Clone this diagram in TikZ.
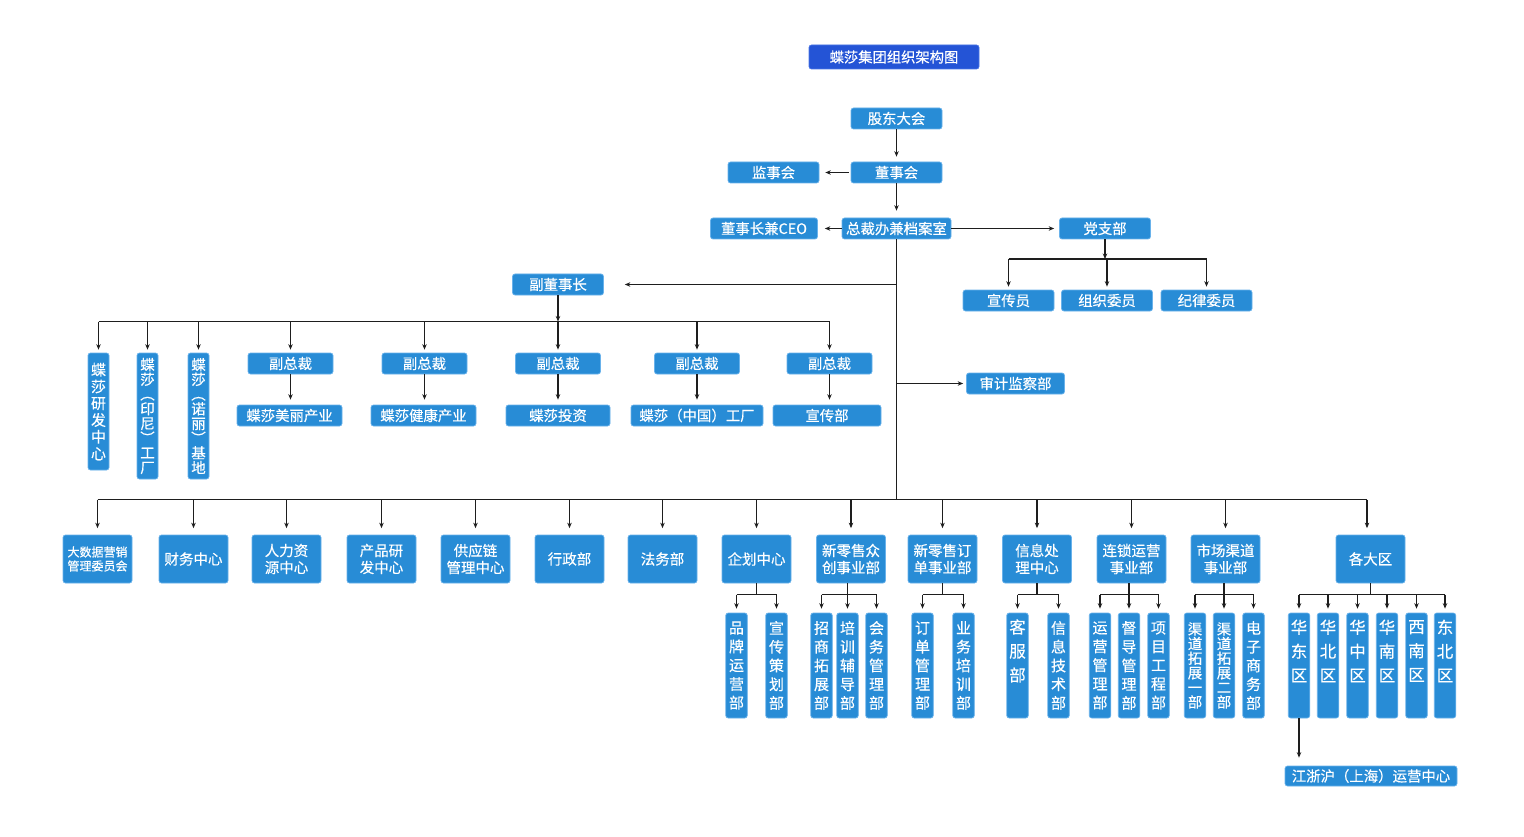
\documentclass[tikz,border=0pt]{standalone}
\usepackage{fontspec}
\setmainfont{Noto Sans CJK SC}[FakeBold=0.35]
\usetikzlibrary{arrows.meta}
\definecolor{boxblue}{RGB}{40,140,214}
\definecolor{boxedge}{RGB}{105,178,235}
\definecolor{titleblue}{RGB}{36,84,214}
\definecolor{titleedge}{RGB}{75,118,230}
\definecolor{linec}{RGB}{30,30,30}
\begin{document}
\begin{tikzpicture}[x=1pt,y=-1pt,
  box/.style={rectangle, rounded corners=2.5pt, fill=boxblue, draw=boxedge, line width=0.7pt, text=white, inner sep=0pt, align=center},
  titlebox/.style={box, fill=titleblue, draw=titleedge, font=\fontsize{14.3}{17}\selectfont},
  hb/.style={box, minimum height=21pt, font=\fontsize{14.4}{17}\selectfont},
  bb/.style={box, minimum width=69pt, minimum height=48pt, font=\fontsize{14.5}{17}\selectfont},
  vb/.style={box, minimum width=21.5pt, minimum height=105pt},
  vfive/.style={vb, font={\fontsize{15}{18.75}\selectfont\lineskiplimit=-20pt}},
  vsix/.style={vb, font={\fontsize{14.5}{14.6}\selectfont\lineskiplimit=-20pt}},
  vthree/.style={text=white, inner sep=0pt, align=center, font={\fontsize{16.5}{24}\selectfont\lineskiplimit=-20pt}},
  conn/.style={draw=linec, line width=1.1pt},
  arr/.style={conn, -{Stealth[length=5.5pt,width=4.5pt]}}]
\useasboundingbox (0,0) rectangle (1524,837);
\fill[white] (0,0) rectangle (1524,837);

% top
\node[titlebox, minimum width=170pt, minimum height=24pt] (title) at (894,57) {蝶莎集团组织架构图};
\node[hb, minimum width=91pt] (gd) at (896.5,118.5) {股东大会};
\node[hb, minimum width=91pt] (dsh) at (896.5,172.5) {董事会};
\node[hb, minimum width=91pt] (jsh) at (773.5,172.5) {监事会};
\node[hb, minimum width=109pt] (zcb) at (896.5,228.5) {总裁办兼档案室};
\node[hb, minimum width=107pt] (ceo) at (764,228.5) {董事长兼CEO};
\node[hb, minimum width=91pt] (dzb) at (1105,228.5) {党支部};
\node[hb, minimum width=91pt] (xcy) at (1008.5,300.5) {宣传员};
\node[hb, minimum width=91pt] (zzwy) at (1107,300.5) {组织委员};
\node[hb, minimum width=91pt] (jlwy) at (1206.5,300.5) {纪律委员};
\node[hb, minimum width=91pt] (fdsz) at (558,284.5) {副董事长};
\node[hb, minimum width=98pt] (sjjc) at (1015.5,383.5) {审计监察部};

% vice presidents
\node[hb, minimum width=85pt] (fz1) at (290.5,363.5) {副总裁};
\node[hb, minimum width=85pt] (fz2) at (424.5,363.5) {副总裁};
\node[hb, minimum width=85pt] (fz3) at (558,363.5) {副总裁};
\node[hb, minimum width=85pt] (fz4) at (697,363.5) {副总裁};
\node[hb, minimum width=85pt] (fz5) at (829.5,363.5) {副总裁};
\node[hb, minimum width=105pt] (ml) at (289.5,415.5) {蝶莎美丽产业};
\node[hb, minimum width=105pt] (jk) at (423.5,415.5) {蝶莎健康产业};
\node[hb, minimum width=104pt] (tz) at (558,415.5) {蝶莎投资};
\node[hb, minimum width=132pt] (zg) at (697,415.5) {蝶莎（中国）工厂};
\node[hb, minimum width=108pt] (xcb) at (827,415.5) {宣传部};

\node[box, minimum width=21pt, minimum height=117pt, font={\fontsize{15}{16.8}\selectfont\lineskiplimit=-20pt}] (yf) at (98.5,411.5) {蝶\\莎\\研\\发\\中\\心};
\node[box, minimum width=21pt, minimum height=126pt, font={\fontsize{14.5}{14.7}\selectfont\lineskiplimit=-20pt}] (yn) at (147.5,416) {蝶\\莎\\︵\\印\\尼\\︶\\工\\厂};
\node[box, minimum width=21pt, minimum height=126pt, font={\fontsize{14.5}{14.7}\selectfont\lineskiplimit=-20pt}] (nl) at (198.5,416) {蝶\\莎\\︵\\诺\\丽\\︶\\基\\地};

% bottom row
\node[bb, font=\fontsize{12}{14}\selectfont] (dsj) at (97.5,559) {大数据营销\\管理委员会};
\node[bb] (cw) at (193.5,559) {财务中心};
\node[bb] (rl) at (286.5,559) {人力资\\源中心};
\node[bb] (cp) at (381.5,559) {产品研\\发中心};
\node[bb] (gyl) at (475.5,559) {供应链\\管理中心};
\node[bb] (xz) at (569.5,559) {行政部};
\node[bb] (fw) at (662.5,559) {法务部};
\node[bb] (qh) at (756.5,559) {企划中心};
\node[bb] (zc) at (851,559) {新零售众\\创事业部};
\node[bb] (dd) at (942.5,559) {新零售订\\单事业部};
\node[bb] (xx) at (1037,559) {信息处\\理中心};
\node[bb] (ls) at (1131.5,559) {连锁运营\\事业部};
\node[bb] (sc) at (1225.5,559) {市场渠道\\事业部};
\node[bb] (gdq) at (1370.5,559) {各大区};

% sub boxes
\node[vfive] (pp) at (736.5,665.5) {品\\牌\\运\\营\\部};
\node[vfive] (xch) at (776.5,665.5) {宣\\传\\策\\划\\部};
\node[vfive] (zs) at (821.5,665.5) {招\\商\\拓\\展\\部};
\node[vfive] (pxfd) at (847.5,665.5) {培\\训\\辅\\导\\部};
\node[vfive] (hw) at (876.5,665.5) {会\\务\\管\\理\\部};
\node[vfive] (ddgl) at (922.5,665.5) {订\\单\\管\\理\\部};
\node[vfive] (ywpx) at (963.5,665.5) {业\\务\\培\\训\\部};
\node[vb] (kf) at (1017.5,665.5) {};
\node[vthree] (kft) at (1017.5,651) {客\\服\\部};
\node[vfive] (xxjs) at (1058.5,665.5) {信\\息\\技\\术\\部};
\node[vfive] (yygl) at (1100,665.5) {运\\营\\管\\理\\部};
\node[vfive] (ddgl2) at (1129,665.5) {督\\导\\管\\理\\部};
\node[vfive] (xmgc) at (1158.5,665.5) {项\\目\\工\\程\\部};
\node[vsix] (qd1) at (1195,665.5) {渠\\道\\拓\\展\\一\\部};
\node[vsix] (qd2) at (1224,665.5) {渠\\道\\拓\\展\\二\\部};
\node[vfive] (dzsw) at (1253.5,665.5) {电\\子\\商\\务\\部};
\node[vb] (hd) at (1299,665.5) {};
\node[vthree] (hdt) at (1299,651) {华\\东\\区};
\node[vb] (hbq) at (1328,665.5) {};
\node[vthree] (hbqt) at (1328,651) {华\\北\\区};
\node[vb] (hzq) at (1357.5,665.5) {};
\node[vthree] (hzqt) at (1357.5,651) {华\\中\\区};
\node[vb] (hnq) at (1387,665.5) {};
\node[vthree] (hnqt) at (1387,651) {华\\南\\区};
\node[vb] (xnq) at (1416.5,665.5) {};
\node[vthree] (xnqt) at (1416.5,651) {西\\南\\区};
\node[vb] (dbq) at (1445,665.5) {};
\node[vthree] (dbqt) at (1445,651) {东\\北\\区};
\node[hb, minimum width=172pt, minimum height=20pt] (jzh) at (1371,776) {江浙沪（上海）运营中心};

% connectors top
\draw[arr, shorten >=5pt] (gd) -- (dsh);
\draw[arr, shorten >=6pt, shorten <=2pt] (dsh) -- (jsh);
\draw[arr, shorten >=7pt] (dsh) -- (zcb);
\draw[arr, shorten >=7pt] (zcb) -- (ceo);
\draw[arr, shorten >=5pt] (zcb) -- (dzb);
\coordinate (pb) at (1105,259);
\draw[arr] (dzb) -- (pb);
\draw[conn] (xcy.north |- pb) -- (jlwy.north |- pb);
\foreach \n in {xcy,zzwy,jlwy} \draw[arr, shorten >=3pt] (\n.north |- pb) -- (\n.north);

% trunk
\coordinate (tb) at (896.5,499.5);
\draw[conn] (zcb.south) -- (tb);
\coordinate (t1) at (896.5,284.5);
\draw[arr, shorten >=21pt] (t1) -- (fdsz.east);
\coordinate (t2) at (896.5,383.5);
\draw[arr, shorten >=3pt] (t2) -- (sjjc.west);

% vice chairman bus
\coordinate (b1) at (558,321.5);
\draw[arr] (fdsz.south) -- (b1);
\draw[conn] (yf.north |- b1) -- (fz5.north |- b1);
\foreach \n in {yf,yn,nl,fz1,fz2,fz3,fz4,fz5} \draw[arr, shorten >=3pt] (\n.north |- b1) -- (\n.north);
\draw[arr, shorten >=5pt] (fz1.south) -- (fz1.south |- ml.north);
\draw[arr, shorten >=5pt] (fz2.south) -- (fz2.south |- jk.north);
\draw[arr, shorten >=5pt] (fz3.south) -- (fz3.south |- tz.north);
\draw[arr, shorten >=5pt] (fz4.south) -- (fz4.south |- zg.north);
\draw[arr, shorten >=5pt] (fz5.south) -- (fz5.south |- xcb.north);

% bottom bus
\coordinate (b2e) at (1367,499.5);
\draw[conn] (dsj.north |- tb) -- (b2e);
\foreach \n in {dsj,cw,rl,cp,gyl,xz,fw,qh,zc,dd,xx,ls,sc} \draw[arr, shorten >=6.5pt] (\n.north |- tb) -- (\n.north);
\draw[arr, shorten >=6.5pt] (b2e) -- (gdq.north -| b2e);

% sub groups
\coordinate (sb) at (0,594.5);
\draw[conn] (qh.south) -- (qh.south |- sb);
\draw[conn] (pp.north |- sb) -- (xch.north |- sb);
\foreach \n in {pp,xch} \draw[arr, shorten >=4pt] (\n.north |- sb) -- (\n.north);

\draw[arr, shorten >=4pt] (zc.south -| pxfd.north) -- (pxfd.north);
\draw[conn] (zs.north |- sb) -- (hw.north |- sb);
\foreach \n in {zs,hw} \draw[arr, shorten >=4pt] (\n.north |- sb) -- (\n.north);

\draw[conn] (dd.south) -- (dd.south |- sb);
\draw[conn] (ddgl.north |- sb) -- (ywpx.north |- sb);
\foreach \n in {ddgl,ywpx} \draw[arr, shorten >=4pt] (\n.north |- sb) -- (\n.north);

\draw[conn] (xx.south) -- (xx.south |- sb);
\draw[conn] (kf.north |- sb) -- (xxjs.north |- sb);
\foreach \n in {kf,xxjs} \draw[arr, shorten >=4pt] (\n.north |- sb) -- (\n.north);

\draw[arr, shorten >=4pt] (ls.south -| ddgl2.north) -- (ddgl2.north);
\draw[conn] (yygl.north |- sb) -- (xmgc.north |- sb);
\foreach \n in {yygl,xmgc} \draw[arr, shorten >=4pt] (\n.north |- sb) -- (\n.north);

\draw[arr, shorten >=4pt] (sc.south -| qd2.north) -- (qd2.north);
\draw[conn] (qd1.north |- sb) -- (dzsw.north |- sb);
\foreach \n in {qd1,dzsw} \draw[arr, shorten >=4pt] (\n.north |- sb) -- (\n.north);

\draw[conn] (gdq.south) -- (gdq.south |- sb);
\draw[conn] (hd.north |- sb) -- (dbq.north |- sb);
\foreach \n in {hd,hbq,hzq,hnq,xnq,dbq} \draw[arr, shorten >=4pt] (\n.north |- sb) -- (\n.north);

\draw[arr, shorten >=8pt] (hd.south) -- (hd.south |- jzh.north);
\end{tikzpicture}
\end{document}
